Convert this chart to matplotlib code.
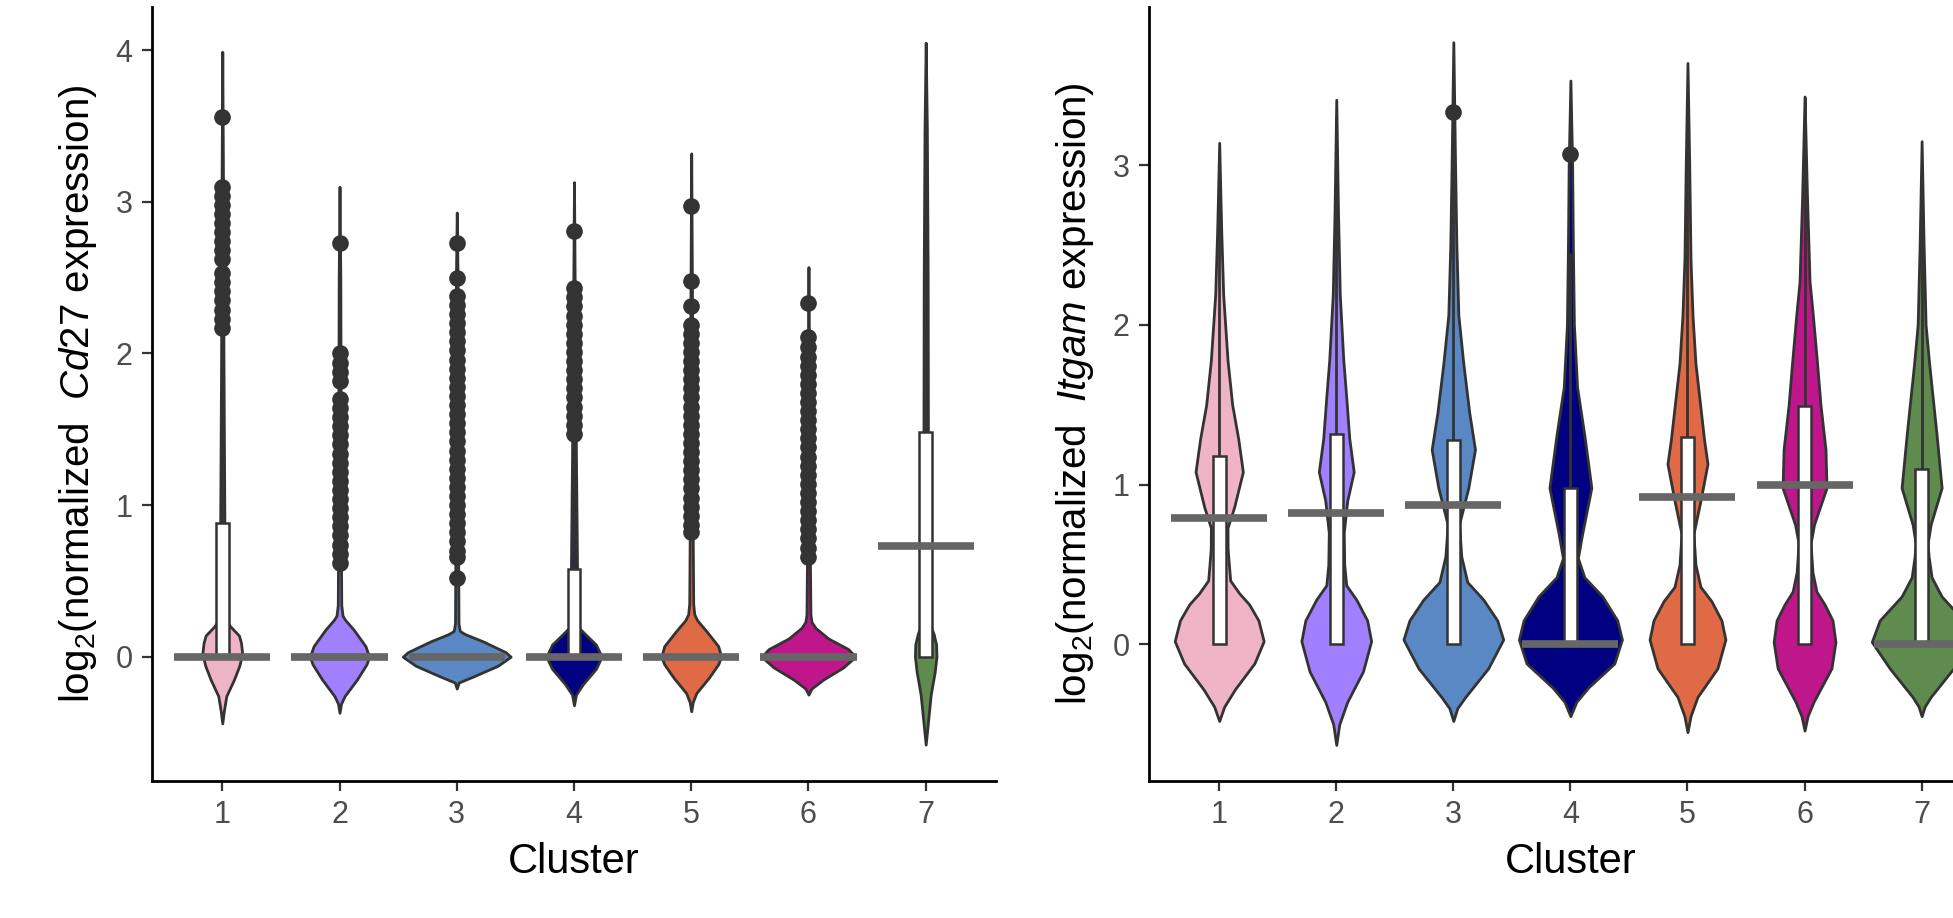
"""
Violin + box plots of Cd27 and Itgam expression per cluster.
"""

import matplotlib
matplotlib.use("Agg")
import matplotlib.pyplot as plt
from matplotlib.patches import Rectangle
import numpy as np

plt.rcParams["font.family"] = ["Liberation Sans", "DejaVu Sans"]
plt.rcParams["mathtext.fontset"] = "custom"
plt.rcParams["mathtext.rm"] = "Liberation Sans"
plt.rcParams["mathtext.it"] = "Liberation Sans:italic"

clusters = [1, 2, 3, 4, 5, 6, 7]
cluster_colors = ["#F0B4C7", "#A080FF", "#5A88C4", "#000080",
                  "#E06A45", "#C0168C", "#5F8B4F"]

# ---- Cd27 panel: violin outline (y, half width)
cd27_violin_y = [
    [-0.44, -0.36, -0.26, -0.15, -0.06, 0.02, 0.09, 0.14, 0.20, 0.25, 0.5, 1.0, 2.0, 3.0, 3.99],
    [-0.37, -0.31, -0.26, -0.15, -0.05, 0.0, 0.07, 0.18, 0.24, 0.27, 0.34, 0.6, 1.5, 2.5, 3.10],
    [-0.21, -0.17, -0.13, -0.06, 0.0, 0.03, 0.10, 0.15, 0.17, 0.22, 0.5, 1.5, 2.5, 2.93],
    [-0.32, -0.25, -0.18, -0.08, 0.0, 0.08, 0.15, 0.19, 0.25, 0.6, 1.3, 2.0, 3.13],
    [-0.36, -0.30, -0.24, -0.14, -0.05, 0.0, 0.07, 0.17, 0.24, 0.28, 0.35, 0.8, 2.0, 3.32],
    [-0.25, -0.21, -0.15, -0.07, 0.0, 0.05, 0.12, 0.19, 0.23, 0.28, 0.6, 1.5, 2.57],
    [-0.58, -0.45, -0.25, -0.10, 0.0, 0.08, 0.15, 0.20, 0.4, 1.0, 1.5, 2.5, 3.48, 4.05],
]
cd27_violin_w = [
    [0, 0.013, 0.034, 0.10, 0.145, 0.17, 0.16, 0.142, 0.068, 0.026, 0.021, 0.017, 0.010, 0.007, 0],
    [0, 0.013, 0.043, 0.149, 0.23, 0.253, 0.221, 0.119, 0.051, 0.026, 0.015, 0.013, 0.010, 0.007, 0],
    [0, 0.017, 0.142, 0.349, 0.46, 0.417, 0.227, 0.068, 0.026, 0.015, 0.013, 0.010, 0.007, 0],
    [0, 0.017, 0.077, 0.187, 0.236, 0.187, 0.094, 0.043, 0.030, 0.026, 0.017, 0.010, 0],
    [0, 0.013, 0.043, 0.149, 0.23, 0.255, 0.23, 0.128, 0.051, 0.026, 0.017, 0.013, 0.009, 0],
    [0, 0.026, 0.128, 0.298, 0.40, 0.34, 0.17, 0.06, 0.026, 0.017, 0.013, 0.009, 0],
    [0, 0.017, 0.043, 0.077, 0.092, 0.089, 0.068, 0.043, 0.026, 0.021, 0.019, 0.017, 0.010, 0],
]
cd27_box_top = [0.88, 0, 0, 0.58, 0, 0, 1.48]
cd27_whisker_top = [2.17, 0, 0, 1.47, 0, 0, 3.48]
cd27_bar = [0, 0, 0, 0, 0, 0, 0.73]
cd27_outliers = [
    [3.56, 3.10, 3.04, 2.98, 2.92, 2.86, 2.80, 2.74, 2.68, 2.62, 2.53, 2.47,
     2.41, 2.35, 2.29, 2.23, 2.17],
    [2.73, 2.00, 1.94, 1.88, 1.82, 1.70, 1.64, 1.58, 1.52, 1.46, 1.40, 1.34,
     1.28, 1.22, 1.16, 1.10, 1.04, 0.98, 0.92, 0.86, 0.80, 0.74, 0.68, 0.62],
    [2.73, 2.50, 2.38, 2.32, 2.26, 2.20, 2.14, 2.08, 2.02, 1.96, 1.90, 1.84,
     1.78, 1.72, 1.66, 1.60, 1.54, 1.48, 1.42, 1.36, 1.30, 1.24, 1.18, 1.12,
     1.06, 1.00, 0.94, 0.88, 0.82, 0.76, 0.70, 0.66, 0.52],
    [2.81, 2.43, 2.37, 2.31, 2.25, 2.19, 2.13, 2.07, 2.01, 1.95, 1.89, 1.83,
     1.77, 1.71, 1.65, 1.59, 1.53, 1.47],
    [2.97, 2.48, 2.31, 2.19, 2.13, 2.07, 2.01, 1.95, 1.89, 1.83, 1.77, 1.71,
     1.65, 1.59, 1.53, 1.47, 1.41, 1.35, 1.29, 1.23, 1.17, 1.11, 1.05, 0.99,
     0.93, 0.87, 0.82],
    [2.33, 2.11, 2.04, 1.98, 1.92, 1.86, 1.80, 1.74, 1.68, 1.62, 1.56, 1.50,
     1.44, 1.38, 1.32, 1.26, 1.20, 1.14, 1.08, 1.02, 0.96, 0.90, 0.84, 0.78,
     0.72, 0.66],
    [],
]

# ---- Itgam panel
itgam_violin_y = [
    [-0.48, -0.39, -0.28, -0.12, 0.02, 0.15, 0.25, 0.32, 0.40, 0.48, 0.60, 0.73, 0.86, 1.08, 1.29, 1.50, 1.78, 2.19, 2.6, 3.14],
    [-0.63, -0.50, -0.36, -0.17, 0.02, 0.15, 0.28, 0.37, 0.50, 0.70, 0.90, 1.08, 1.29, 1.55, 1.78, 2.19, 2.7, 3.41],
    [-0.48, -0.40, -0.33, -0.15, 0.03, 0.15, 0.28, 0.39, 0.55, 0.75, 0.98, 1.22, 1.45, 1.76, 2.06, 2.5, 3.0, 3.77],
    [-0.45, -0.36, -0.27, -0.12, 0.03, 0.15, 0.30, 0.42, 0.54, 0.69, 0.98, 1.31, 1.61, 2.0, 2.5, 3.0, 3.53],
    [-0.55, -0.45, -0.33, -0.15, 0.03, 0.15, 0.27, 0.36, 0.50, 0.69, 0.90, 1.13, 1.28, 1.76, 2.06, 2.41, 3.0, 3.64],
    [-0.54, -0.45, -0.36, -0.15, 0.015, 0.15, 0.25, 0.33, 0.45, 0.63, 0.75, 0.98, 1.22, 1.50, 1.76, 2.06, 2.27, 2.8, 3.43],
    [-0.45, -0.39, -0.33, -0.15, 0.015, 0.15, 0.30, 0.42, 0.55, 0.63, 0.75, 0.98, 1.31, 1.76, 2.0, 2.5, 3.15],
]
itgam_violin_w = [
    [0, .043, .136, .300, .38, .335, .256, .171, .094, .085, .072, .071, .128, .202, .162, .111, .071, .034, .017, 0],
    [0, .026, .094, .228, .298, .264, .171, .085, .068, .064, .094, .149, .111, .085, .060, .030, .015, 0],
    [0, .034, .102, .298, .426, .375, .256, .119, .068, .049, .128, .185, .136, .085, .043, .026, .015, 0],
    [0, .051, .153, .375, .44, .40, .273, .119, .064, .10, .179, .119, .057, .030, .021, .015, 0],
    [0, .026, .085, .256, .324, .29, .205, .111, .068, .051, .111, .171, .142, .068, .043, .026, .015, 0],
    [0, .026, .077, .23, .264, .239, .171, .102, .068, .051, .081, .188, .179, .136, .107, .071, .043, .021, 0],
    [0, .026, .077, .273, .426, .358, .171, .085, .060, .051, .077, .171, .128, .064, .034, .017, 0],
]
itgam_box_top = [1.18, 1.32, 1.28, 0.98, 1.30, 1.49, 1.10]
itgam_whisker_top = [2.95, 3.30, 3.20, 2.45, 3.25, 3.43, 2.75]
itgam_bar = [0.79, 0.82, 0.87, 0.0, 0.92, 1.0, 0.0]
itgam_outliers = [[], [], [3.33], [3.07], [], [], []]

line_col = "#333333"
box_w = 0.11
bar_half = 0.41


def draw_panel(ax, vy, vw, box_top, whisker_top, bar_y, outliers):
    for i, x in enumerate(clusters):
        y = np.array(vy[i])
        w = np.array(vw[i])
        ax.fill_betweenx(y, x - w, x + w, facecolor=cluster_colors[i],
                         edgecolor=line_col, lw=2.0, zorder=2)
        if box_top[i] > 0:
            ax.vlines(x, box_top[i], whisker_top[i], color=line_col, lw=2.0, zorder=3)
            ax.add_patch(Rectangle((x - box_w / 2, 0), box_w, box_top[i],
                                   facecolor="white", edgecolor=line_col,
                                   lw=1.8, zorder=3))
        if outliers[i]:
            ax.plot([x] * len(outliers[i]), outliers[i], "o", ms=12,
                    color=line_col, mec="none", zorder=4)
    xs = np.array(clusters)
    ax.hlines(bar_y, xs - bar_half, xs + bar_half, color="#666666", lw=5.5,
              capstyle="butt", zorder=5)


def style_axes(ax, ylim, yticks, ylabel):
    ax.set_xlim(0.4, 7.6)
    ax.set_ylim(*ylim)
    ax.set_xticks(clusters)
    ax.set_yticks(yticks)
    for s in ["top", "right"]:
        ax.spines[s].set_visible(False)
    for s in ["left", "bottom"]:
        ax.spines[s].set_linewidth(2.0)
        ax.spines[s].set_color("black")
    ax.tick_params(length=7, width=1.6, color=line_col, labelsize=22,
                   labelcolor="#4D4D4D", pad=7)
    ax.set_xlabel("Cluster", fontsize=30, labelpad=8)
    ax.set_ylabel(ylabel, fontsize=29, labelpad=12)


fig = plt.figure(figsize=(19.53, 9.18), dpi=100)
ax1 = fig.add_axes([0.0778, 0.1492, 0.4322, 0.8431])
ax2 = fig.add_axes([0.5883, 0.1492, 0.4316, 0.8431])

draw_panel(ax1, cd27_violin_y, cd27_violin_w, cd27_box_top,
           cd27_whisker_top, cd27_bar, cd27_outliers)
style_axes(ax1, (-0.82, 4.285), [0, 1, 2, 3, 4],
           r"log$_2$(normalized  $\mathit{Cd27}$ expression)")

draw_panel(ax2, itgam_violin_y, itgam_violin_w, itgam_box_top,
           itgam_whisker_top, itgam_bar, itgam_outliers)
style_axes(ax2, (-0.856, 3.99), [0, 1, 2, 3],
           r"log$_2$(normalized  $\mathit{Itgam}$ expression)")

fig.savefig("out.png", dpi=100)
